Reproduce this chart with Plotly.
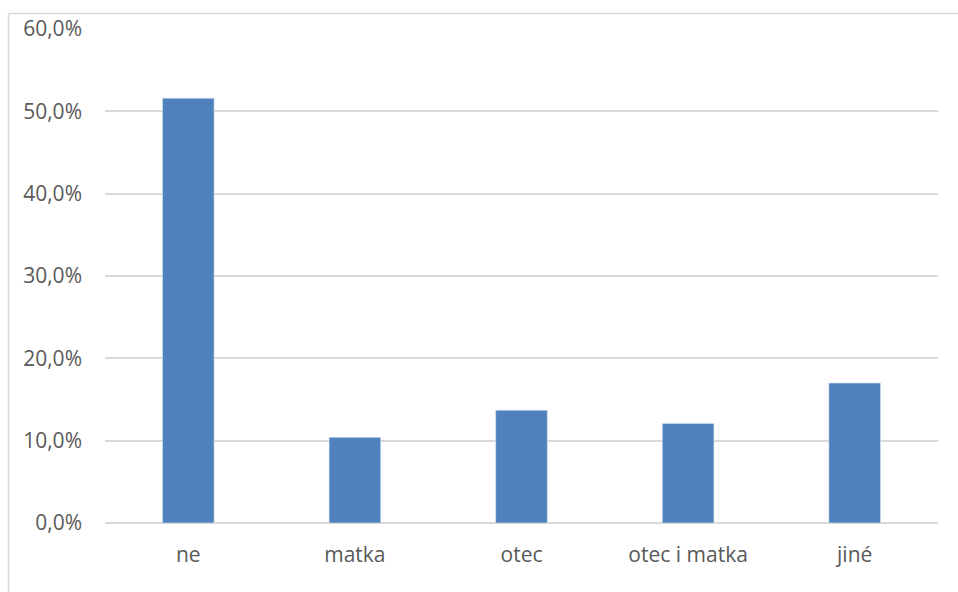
import plotly.graph_objects as go

# Categories and shares (percent)
categories = ["ne", "matka", "otec", "otec i matka", "jiné"]
shares = [51.6, 10.4, 13.7, 12.1, 17.0]

# Y axis ticks
tick_values = [0, 10, 20, 30, 40, 50, 60]
tick_labels = ["0,0%", "10,0%", "20,0%", "30,0%", "40,0%", "50,0%", "60,0%"]

W, H = 958, 592
left, right, top, bottom = 105, 20, 29, 69
plot_w = W - left - right
plot_h = H - top - bottom

fig = go.Figure(
    go.Bar(
        x=categories,
        y=shares,
        marker=dict(color="#4f81bd", line=dict(color="#dce6f2", width=0.6)),
        width=0.31,
        hoverinfo="x+y",
    )
)

font = dict(family="Open Sans, Noto Sans, sans-serif", size=21, color="#595959")

fig.update_layout(
    width=W,
    height=H,
    margin=dict(l=left, r=right, t=top, b=bottom, pad=0),
    paper_bgcolor="white",
    plot_bgcolor="white",
    showlegend=False,
    font=font,
    xaxis=dict(
        showgrid=False,
        showline=False,
        zeroline=False,
        ticks="",
        tickfont=font,
        ticklabelstandoff=17,
    ),
    yaxis=dict(
        range=[0, 60],
        tickvals=tick_values,
        ticktext=tick_labels,
        showgrid=True,
        gridcolor="#d9d9d9",
        gridwidth=1.5,
        zeroline=True,
        zerolinecolor="#d9d9d9",
        zerolinewidth=1.6,
        showline=False,
        ticks="",
        tickfont=font,
        ticklabelstandoff=22,
    ),
)

# Chart-area frame: left and top edges
x0 = (8.5 - left) / plot_w
y_top = (H - bottom - 13.5) / plot_h
x_end = (W + 5 - left) / plot_w
y_low = -(bottom + 5) / plot_h
fig.add_shape(type="line", xref="paper", yref="paper", x0=x0, x1=x0, y0=y_low, y1=y_top,
              line=dict(color="#d9d9d9", width=1.5), layer="below")
fig.add_shape(type="line", xref="paper", yref="paper", x0=x0, x1=x_end, y0=y_top, y1=y_top,
              line=dict(color="#d9d9d9", width=1.5), layer="below")

fig.write_html("out.html")
